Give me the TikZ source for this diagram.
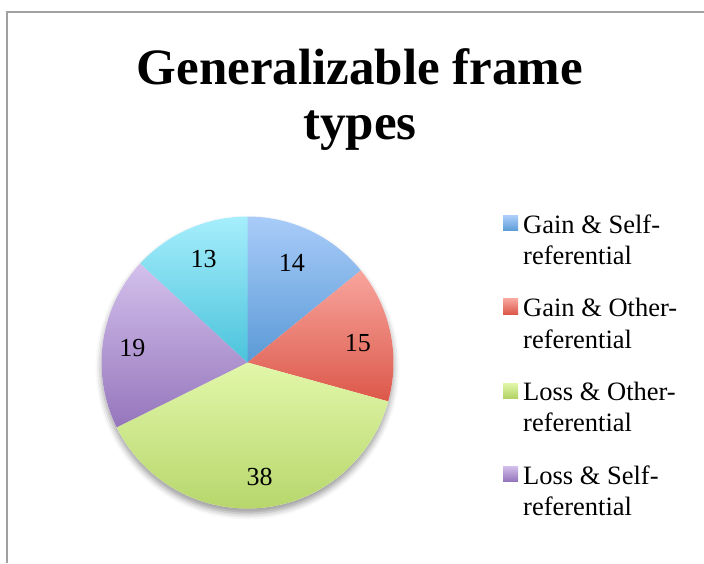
\documentclass[tikz,border=0pt]{standalone}
\usepackage{fontspec}
\setmainfont{Liberation Serif}
\usetikzlibrary{shadows.blur}

% slice colours: light at the top, dark at the bottom of each slice
\definecolor{gsTop}{HTML}{A9CCF9}\definecolor{gsBot}{HTML}{5A9AD6}
\definecolor{goTop}{HTML}{F8A59D}\definecolor{goBot}{HTML}{DC584A}
\definecolor{loTop}{HTML}{E2F7AA}\definecolor{loBot}{HTML}{B2D365}
\definecolor{lsTop}{HTML}{D3C0EC}\definecolor{lsBot}{HTML}{9576BC}
\definecolor{cyTop}{HTML}{A6EEFC}\definecolor{cyBot}{HTML}{4BC3DB}
\definecolor{framegray}{HTML}{A0A0A0}

\tikzset{
  titletext/.style={font=\fontsize{51}{55}\selectfont\bfseries, align=center, inner sep=0pt},
  valtext/.style={font=\fontsize{26}{31}\selectfont, inner sep=0pt},
  legtext/.style={font=\fontsize{26.5}{31}\selectfont, align=left, inner sep=0pt, anchor=base west},
}

\newcommand{\pieR}{146}

\begin{document}
\begin{tikzpicture}[x=1pt,y=1pt]
\useasboundingbox (0,0) rectangle (704,563);

% frame of the chart area
\draw[framegray, line width=2pt] (6.5,0) -- (6.5,550.5) -- (704,550.5);

% title (base anchor sits on the last line)
\node[titletext, anchor=base] (title) at (360,423) {Generalizable frame\\types};

% pie
\coordinate (c) at (247.5,200.5);
\fill[white, blur shadow={shadow xshift=0pt, shadow yshift=-5pt,
      shadow blur radius=6pt, shadow opacity=40}] (c) circle (\pieR);

\shade[top color=gsTop, bottom color=gsBot]
  (c) -- ([shift={(90:\pieR)}]c) arc[start angle=90, end angle=39.091, radius=\pieR] -- cycle;
\shade[top color=goTop, bottom color=goBot]
  (c) -- ([shift={(39.091:\pieR)}]c) arc[start angle=39.091, end angle=-15.455, radius=\pieR] -- cycle;
\shade[top color=loTop, bottom color=loBot]
  (c) -- ([shift={(-15.455:\pieR)}]c) arc[start angle=-15.455, end angle=-153.636, radius=\pieR] -- cycle;
\shade[top color=lsTop, bottom color=lsBot]
  (c) -- ([shift={(-153.636:\pieR)}]c) arc[start angle=-153.636, end angle=-222.727, radius=\pieR] -- cycle;
\shade[top color=cyTop, bottom color=cyBot]
  (c) -- ([shift={(137.273:\pieR)}]c) arc[start angle=137.273, end angle=90, radius=\pieR] -- cycle;

% slice values
\node[valtext] (v14) at ([shift={(66:109)}]c) {14};
\node[valtext] (v15) at ([shift={(10:112)}]c) {15};
\node[valtext] (v38) at ([shift={(-84:115)}]c) {38};
\node[valtext] (v19) at ([shift={(173:116)}]c) {19};
\node[valtext] (v13) at ([shift={(113:112)}]c) {13};

% legend (base anchor sits on the second line)
\shade[top color=gsTop, bottom color=gsBot] (503,347) rectangle (518,332);
\node[legtext] (lg1) at (523,298) {Gain \& Self-\\referential};
\shade[top color=goTop, bottom color=goBot] (503,264) rectangle (518,249);
\node[legtext] (lg2) at (523,215) {Gain \& Other-\\referential};
\shade[top color=loTop, bottom color=loBot] (503,180) rectangle (518,165);
\node[legtext] (lg3) at (523,131.5) {Loss \& Other-\\referential};
\shade[top color=lsTop, bottom color=lsBot] (503,97) rectangle (518,82);
\node[legtext] (lg4) at (523,48) {Loss \& Self-\\referential};
\end{tikzpicture}
\end{document}
